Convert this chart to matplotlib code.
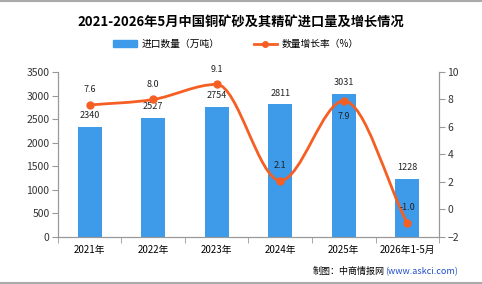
import matplotlib
matplotlib.use("Agg")
import matplotlib.pyplot as plt
from matplotlib.path import Path
from matplotlib.patches import PathPatch
from matplotlib.lines import Line2D
from matplotlib.patches import Patch

plt.rcParams["font.family"] = ["Noto Sans CJK SC", "DejaVu Sans"]

# --------------------------------------------------
# Data
# --------------------------------------------------
years = ["2021年", "2022年", "2023年", "2024年", "2025年", "2026年1-5月"]
imports = [2340, 2527, 2754, 2811, 3031, 1228]
growth = [7.6, 8.0, 9.1, 2.1, 7.9, -1.0]
growth_label_below = [False, False, False, False, True, False]

bar_color = "#3d9be9"
line_color = "#f55f23"
axis_color = "#999999"

fig = plt.figure(figsize=(4.82, 2.84), dpi=100)
ax = fig.add_axes([0.120, 0.1655, 0.791, 0.581])
ax2 = ax.twinx()

x = list(range(len(years)))

# --------------------------------------------------
# Bars
# --------------------------------------------------
ax.bar(x, imports, width=0.38, color=bar_color, zorder=2)
ax.set_ylim(0, 3500)
ax.set_yticks(range(0, 3501, 500))
ax.set_xlim(-0.5, len(years) - 0.5)
ax.set_xticks(x)
ax.set_xticklabels(years)
ax.set_xticks([i - 0.5 for i in range(len(years) + 1)], minor=True)
ax.tick_params(axis="x", which="major", length=0, pad=6, labelsize=7)
ax.tick_params(axis="x", which="minor", length=4, color=axis_color, direction="out")
ax.tick_params(axis="y", length=4, color=axis_color, labelsize=7.5, pad=2,
               labelcolor="#333333")

for xi, v in zip(x, imports):
    ax.annotate(f"{v}", (xi, v), xytext=(0, 5), textcoords="offset points",
                ha="center", va="bottom", fontsize=6.5, color="#222222",
                zorder=5)

# --------------------------------------------------
# Smooth growth line (monotone-style bezier segments)
# --------------------------------------------------
ax2.set_ylim(-2, 10)
ax2.set_yticks(range(-2, 11, 2))
ax2.tick_params(axis="y", length=4, color=axis_color, labelsize=7.5, pad=2,
                labelcolor="#333333")

n = len(growth)
d = [growth[i + 1] - growth[i] for i in range(n - 1)]
m = [d[0]]
for i in range(1, n - 1):
    if d[i - 1] * d[i] <= 0:
        m.append(0.0)
    else:
        m.append((d[i - 1] + d[i]) / 2)
m.append(d[-1])

verts = [(x[0], growth[0])]
codes = [Path.MOVETO]
for i in range(n - 1):
    c1 = (x[i] + 1 / 3, growth[i] + m[i] / 3)
    c2 = (x[i + 1] - 1 / 3, growth[i + 1] - m[i + 1] / 3)
    verts += [c1, c2, (x[i + 1], growth[i + 1])]
    codes += [Path.CURVE4] * 3

curve = PathPatch(Path(verts, codes), facecolor="none", edgecolor=line_color,
                  lw=2, zorder=3)
ax2.add_patch(curve)
ax2.plot(x, growth, "o", color=line_color, markersize=5, zorder=4)

for xi, v, below in zip(x, growth, growth_label_below):
    off = -11 if below else 11
    ax2.annotate(f"{v:.1f}", (xi, v), xytext=(0, off), textcoords="offset points",
                 ha="center", va="center", fontsize=6.5, color="#222222",
                 zorder=5)

for a in (ax, ax2):
    a.spines["top"].set_visible(False)
    for s in ("left", "right", "bottom"):
        a.spines[s].set_color(axis_color)
ax.set_zorder(ax2.get_zorder() - 1)
ax2.patch.set_visible(False)

# --------------------------------------------------
# Title, legend, source
# --------------------------------------------------
fig.text(0.5, 0.922, "2021-2026年5月中国铜矿砂及其精矿进口量及增长情况",
         ha="center", va="center", fontsize=9.5, fontweight="bold")

handles = [
    Patch(color=bar_color, label="进口数量（万吨）"),
    Line2D([0], [0], color=line_color, lw=2, marker="o", markersize=4,
           label="数量增长率（%）"),
]
fig.legend(handles=handles, loc="center", bbox_to_anchor=(0.49, 0.845), ncol=2,
           frameon=False, fontsize=7, handlelength=2.4, handleheight=0.7,
           columnspacing=3.5, handletextpad=0.5)

fig.text(0.798, 0.045, "制图：中商情报网", ha="right", va="center", fontsize=6.5)
fig.text(0.798, 0.045, "(www.askci.com)", ha="left", va="center", fontsize=6.5,
         color="#1f4fc9")

fig.add_artist(Line2D([0, 1], [0.998, 0.998], color="#aaaaaa", lw=1.5))
fig.add_artist(Line2D([0, 1], [0.002, 0.002], color="#aaaaaa", lw=1.5))

fig.savefig("out.png", dpi=100)
